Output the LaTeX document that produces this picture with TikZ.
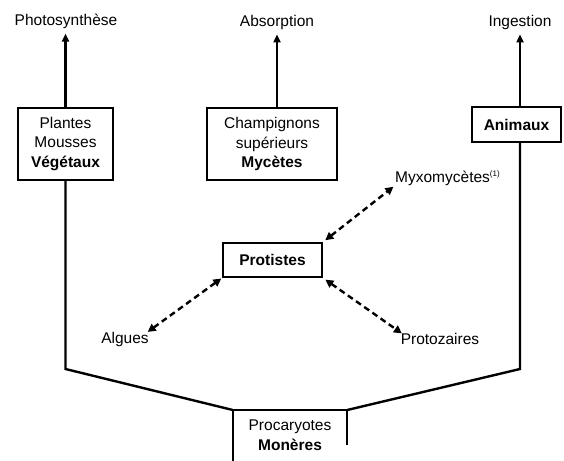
\documentclass[tikz,border=0pt]{standalone}
\usepackage{fontspec}
\setmainfont{Liberation Sans}
\usetikzlibrary{arrows.meta}
\begin{document}
\begin{tikzpicture}[x=1pt,y=-1pt,
  every node/.style={font=\fontsize{15.5}{19.5}\selectfont, align=center},
  lbl/.style={inner sep=2pt},
  box/.style={draw, line width=1.8pt, inner sep=0pt},
  trunk/.style={line width=2.4pt, line join=miter},
  up/.style={line width=2.4pt, -{Triangle[length=8pt,width=7pt]}, shorten >=3pt},
  dbl/.style={line width=2.4pt, dash pattern=on 6pt off 4pt,
     {Triangle[length=8pt,width=8pt]}-{Triangle[length=8pt,width=8pt]}}]
\useasboundingbox (0,0) rectangle (564,460);
% top labels
\node[lbl] (photo) at (66,21) {Photosynthèse};
\node[lbl] (absorp) at (277,22) {Absorption};
\node[lbl] (inges) at (520,22) {Ingestion};
% boxes
\node[box, minimum width=95pt, minimum height=72pt] (veg) at (65.5,144) {Plantes\\Mousses\\\textbf{Végétaux}};
\node[box, minimum width=130pt, minimum height=72pt] (myc) at (272,144) {Champignons\\supérieurs\\\textbf{Mycètes}};
\node[box, minimum width=89pt, minimum height=35pt] (anim) at (516.5,124.5) {\textbf{Animaux}};
\node[box, minimum width=99pt, minimum height=34pt] (prot) at (272.5,260) {\textbf{Protistes}};
% Monères box (open at the bottom of the picture)
\node[inner sep=0pt, minimum width=114pt, minimum height=50pt, anchor=north] (mon) at (290,410) {Procaryotes\\\textbf{Monères}};
\draw[line width=1.8pt] (mon.south west) ++(0,15) -- (mon.north west) -- (mon.north east) -- ([yshift=15pt]mon.south east);
% side labels
\node[lbl, anchor=west, inner sep=0pt] (myxo) at (395,178) {Myxomycètes\textsuperscript{\fontsize{8}{8}\selectfont(1)}};
\node[lbl] (alg) at (125,339) {Algues};
\node[lbl] (protoz) at (440,339) {Protozaires};
% corners of the trunk
\coordinate (cl) at (64,369);
\coordinate (cr) at (520,369);
% vertical arrows
\draw[up] (veg.north) -- (veg.north |- photo.south);
\draw[up] (myc.north -| absorp.south) -- (absorp.south);
\draw[up] (anim.north -| inges.south) -- (inges.south);
% trunk
\draw[trunk] (veg.south) -- (veg.south |- cl) -- (mon.north west);
\draw[trunk] (anim.south -| cr) -- (cr) -- (mon.north east);
% dashed double arrows
\draw[dbl, shorten <=3pt, shorten >=2pt] (prot.north east) -- (myxo.south west);
\draw[dbl, shorten <=1pt, shorten >=-4pt] (prot.south west) -- (alg.north east);
\draw[dbl, shorten <=3pt, shorten >=-4pt] (prot.south east) -- (protoz.north west);
\end{tikzpicture}
\end{document}
